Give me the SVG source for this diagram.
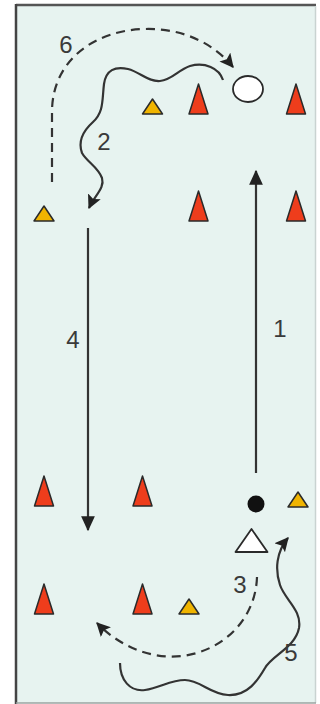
<svg xmlns="http://www.w3.org/2000/svg" width="320" height="704" viewBox="0 0 320 704">
<style>
.cone{fill:#ee3d1c;stroke:#2a2a2a;stroke-width:1.5;stroke-linejoin:round}
.mark{fill:#f0b400;stroke:#2a2a2a;stroke-width:1.5;stroke-linejoin:round}
.ln{fill:none;stroke:#333;stroke-width:2.2}
.dash{stroke-dasharray:9 6}
.lbl{font-family:"Liberation Sans",Arial,sans-serif;font-size:24px;fill:#3a3a3a;text-anchor:middle}
</style>
<defs>
<polygon id="cone" class="cone" points="0,-30 -9.5,0 9.5,0"/>
<polygon id="mark" class="mark" points="0,-15 -10,0 10,0"/>
<marker id="ah" viewBox="0 0 12 12" refX="11" refY="6" markerWidth="14" markerHeight="14" markerUnits="userSpaceOnUse" orient="auto">
<path d="M0,0 L12,6 L0,12 L2.5,6 z" fill="#222"/>
</marker>
<marker id="as" viewBox="0 0 12 12" refX="11" refY="6" markerWidth="15" markerHeight="15" markerUnits="userSpaceOnUse" orient="auto">
<path d="M0,0.5 L12,6 L0,11.5 z" fill="#222"/>
</marker>
</defs>
<rect x="0" y="0" width="320" height="704" fill="#fff"/>
<rect x="16" y="5" width="300" height="698" fill="#e7f3f0"/>
<line x1="16" y1="5" x2="316" y2="5" stroke="#555" stroke-width="2.5"/>
<line x1="16" y1="4" x2="16" y2="704" stroke="#444" stroke-width="2.5"/>
<line x1="315.5" y1="6" x2="315.5" y2="703" stroke="#c9d3d1" stroke-width="1.5"/>
<line x1="16" y1="703" x2="316" y2="703" stroke="#9aa3a1" stroke-width="1.5"/>

<g id="cones">
<use href="#cone" x="198.5" y="114"/>
<use href="#cone" x="296" y="114"/>
<use href="#cone" x="198.5" y="221"/>
<use href="#cone" x="296" y="221"/>
<use href="#cone" x="44" y="506"/>
<use href="#cone" x="142.5" y="506"/>
<use href="#cone" x="44" y="614"/>
<use href="#cone" x="142.5" y="614"/>
</g>
<g id="markers">
<use href="#mark" x="152.5" y="114"/>
<use href="#mark" x="44" y="221"/>
<use href="#mark" x="189" y="614"/>
<use href="#mark" x="298" y="507"/>
</g>
<g id="ball">
<ellipse cx="248" cy="89" rx="15" ry="13" fill="#fff" stroke="#2a2a2a" stroke-width="1.8"/>
</g>
<g id="player">
<circle cx="256" cy="504" r="8.5" fill="#111"/>
</g>
<g id="coach">
<polygon points="251.5,529 235.5,552 267.5,552" fill="#fff" stroke="#2a2a2a" stroke-width="1.8" stroke-linejoin="round"/>
</g>

<g id="connectors">
<path class="ln" d="M256,473 L256,171" marker-end="url(#as)"/>
<path class="ln" d="M88,228 L88,530" marker-end="url(#as)"/>
<path class="ln dash" d="M52,182 L52,112 C52,60 95,30 145,29 C185,28 215,45 233,67" marker-end="url(#ah)"/>
<path class="ln" d="M223,80 C219,68 205,62 190,66 C178,70 172,80 160,81 C148,82 140,72 128,69 C115,66 106,70 104,84 C102,100 104,112 93,122 C83,131 78,142 82,153 C87,162 98,167 102,178 C105,188 95,195 89,208" marker-end="url(#ah)"/>
<path class="ln dash" d="M257,577 C256,610 235,640 200,652 C165,664 125,652 97,623" marker-end="url(#ah)"/>
<path class="ln" d="M120,663 C120,680 130,692 145,690 C160,688 170,680 185,680 C200,680 210,694 228,695 C248,696 258,680 265,668 C272,655 295,648 299,628 C302,610 285,600 280,585 C275,570 276,552 288,538" marker-end="url(#ah)"/>
</g>
<g id="labels">
<text class="lbl" x="280" y="337">1</text>
<text class="lbl" x="104" y="150">2</text>
<text class="lbl" x="240" y="593">3</text>
<text class="lbl" x="73" y="348">4</text>
<text class="lbl" x="291" y="661">5</text>
<text class="lbl" x="66" y="53">6</text>
</g>
</svg>
